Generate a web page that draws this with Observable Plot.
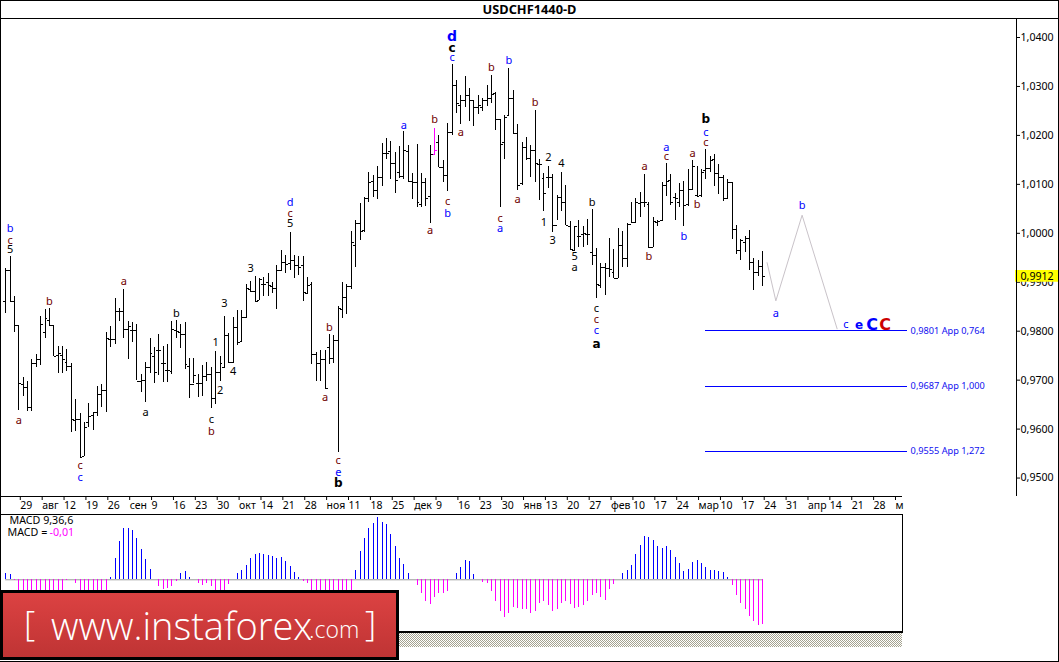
<!DOCTYPE html>
<html><head><meta charset="utf-8">
<script src="https://cdn.jsdelivr.net/npm/d3@7"></script>
<script src="https://cdn.jsdelivr.net/npm/@observablehq/plot@0.6"></script>
<style>
html,body{margin:0;padding:0;background:#fff;overflow:hidden}
#wrap{position:relative;width:1059px;height:662px;overflow:hidden;font-family:"Noto Sans",sans-serif}
#main,#macd{position:absolute;left:0}
#main{top:0}#macd{top:514px}
#title{position:absolute;left:0;width:1059px;top:1px;text-align:center;font:bold 12.8px/17px "Noto Sans",sans-serif;color:#000}
.ln{position:absolute;background:#000}
#hatch{position:absolute;left:0;top:633px;width:902px;height:14px;background:repeating-conic-gradient(#a5a390 0 25%,#ffffff 0 50%) 0 0/2px 2px}
#logo{position:absolute;left:0;top:590px;width:393px;height:64px;border:3.5px solid #000;background:linear-gradient(#dc4242,#bf3434);color:#fff;overflow:hidden}
#logo span{position:absolute;white-space:nowrap;font-family:"Open Sans",sans-serif;font-weight:300}
</style></head><body>
<div id="wrap">
<div id="main"></div>
<div id="macd"></div>
<div id="title">USDCHF1440-D</div>
<div class="ln" style="left:0;top:0;width:1059px;height:1px"></div>
<div class="ln" style="left:0;top:18px;width:1059px;height:1px"></div>
<div class="ln" style="left:0;top:0;width:1px;height:590px"></div>
<div class="ln" style="left:1058px;top:0;width:1px;height:662px"></div>
<div class="ln" style="left:1016px;top:18px;width:1px;height:478px"></div>
<div id="hatch"></div>
<div class="ln" style="left:0;top:631px;width:902px;height:2px"></div>
<div class="ln" style="left:0;top:661px;width:1059px;height:1px"></div>
<div id="logo">
<span style="left:21px;top:6px;font-size:35px">[</span>
<span style="left:48px;top:6px;font-size:38px">www.instaforex</span>
<span style="left:306px;top:20px;font-size:23px">.com</span>
<span style="left:362px;top:6px;font-size:35px">]</span>
</div>
</div>
<script>
// Daily OHLC, in units of 0.0001 (9929 = 0,9929)
const high=[9929,9952,9870,9811,9705,9697,9742,9752,9831,9844,
9846,9811,9768,9768,9762,9735,9660,9631,9613,9652,
9633,9687,9691,9797,9809,9866,9846,9886,9819,9817,
9813,9711,9737,9786,9766,9793,9768,9772,9819,9821,
9813,9817,9744,9744,9711,9729,9737,9725,9758,9748,
9831,9795,9829,9842,9842,9895,9901,9911,9907,9909,
9917,9899,9935,9964,9954,10001,9954,9952,9952,9909,
9899,9756,9760,9760,9793,9791,9850,9899,9895,10003,
10027,10060,10074,10125,10119,10137,10184,10194,10188,10166,
10178,10207,10180,10123,10182,10123,10111,10180,10215,10200,
10148,10225,10345,10313,10282,10321,10296,10272,10282,10276,
10301,10323,10288,10233,10241,10337,10292,10223,10186,10196,
10180,10250,10150,10123,10137,10121,10078,10125,10097,10025,
10013,10027,10013,10029,10048,9968,9939,9939,9990,9966,
10009,10003,10021,10062,10072,10084,10121,10062,10033,10027,
10103,10143,10121,10082,10101,10105,10131,10148,10137,10131,
10172,10156,10162,10141,10119,10109,10103,10015,9988,9993,
10005,9948,9944,9962];
const low=[9837,9860,9797,9638,9666,9636,9636,9725,9729,9786,
9811,9748,9713,9713,9717,9593,9595,9542,9544,9603,
9597,9625,9644,9633,9766,9772,9819,9786,9742,9776,
9699,9674,9654,9713,9693,9709,9695,9695,9711,9786,
9764,9721,9662,9693,9664,9666,9697,9642,9650,9697,
9723,9735,9735,9770,9778,9825,9880,9860,9862,9870,
9870,9878,9844,9921,9917,9925,9907,9913,9860,9874,
9731,9697,9697,9682,9731,9735,9552,9825,9835,9886,
9931,9986,10001,10062,10074,10070,10095,10150,10109,10082,
10111,10109,10103,10070,10052,10052,10054,10021,10158,10135,
10103,10086,10200,10245,10223,10256,10229,10219,10243,10248,
10260,10266,10209,10052,10150,10241,10203,10088,10097,10148,
10113,10103,10068,10044,10092,10001,10027,10044,10015,9966,
9962,9972,9972,9976,9935,9866,9888,9872,9909,9907,
9907,9931,9931,10019,10021,10033,10052,9968,9972,10013,
10025,10076,10056,10027,10052,10013,10054,10088,10074,10074,
10109,10125,10095,10080,10064,10072,9988,9956,9944,9960,
9923,9884,9911,9891];
const open=[9860,9925,9860,9811,9691,9684,9644,9733,9742,9797,
9821,9811,9750,9750,9737,9727,9617,9619,9544,9613,
9627,9633,9670,9678,9784,9784,9840,9840,9803,9801,
9801,9697,9699,9725,9748,9760,9735,9719,9717,9801,
9797,9793,9727,9691,9693,9693,9707,9711,9662,9715,
9725,9791,9737,9807,9778,9827,9886,9882,9862,9895,
9899,9891,9888,9925,9941,9939,9944,9935,9935,9878,
9895,9752,9735,9742,9766,9744,9780,9844,9868,9891,
9976,10021,10005,10072,10105,10088,10115,10164,10168,10143,
10125,10117,10168,10105,10103,10058,10103,10076,10160,10186,
10135,10119,10205,10301,10262,10272,10282,10272,10256,10258,
10272,10276,10286,10233,10186,10241,10276,10203,10101,10176,
10152,10170,10141,10111,10115,10115,10015,10074,10062,10013,
9964,9993,9997,9997,9960,9954,9893,9931,9929,9919,
9907,9976,9948,10019,10023,10060,10062,10058,9970,10023,
10027,10097,10107,10074,10062,10088,10058,10090,10078,10078,
10129,10133,10150,10123,10115,10072,10103,10007,9964,9982,
9990,9941,9919,9933];
const close=[9925,9860,9811,9693,9684,9644,9733,9742,9813,9825,
9811,9748,9754,9742,9727,9619,9619,9542,9603,9625,
9633,9670,9678,9786,9784,9840,9840,9803,9809,9801,
9697,9699,9725,9754,9715,9760,9735,9719,9803,9799,
9793,9731,9691,9709,9693,9707,9711,9662,9715,9735,
9791,9737,9807,9776,9827,9888,9882,9860,9905,9895,
9893,9888,9925,9941,9937,9944,9935,9931,9880,9893,
9752,9733,9742,9682,9744,9780,9846,9868,9891,9982,
10021,10003,10072,10103,10088,10115,10164,10164,10143,10107,
10117,10170,10105,10103,10062,10103,10072,10162,10170,10135,
10119,10205,10301,10266,10272,10282,10272,10256,10262,10272,
10276,10284,10233,10182,10237,10276,10203,10097,10176,10152,
10170,10143,10141,10082,10115,10015,10074,10062,10015,9966,
10013,9993,9999,9997,9954,9895,9931,9929,9927,9907,
9976,9948,10019,10023,10062,10062,10062,9970,10025,10025,
10097,10105,10062,10072,10088,10056,10090,10137,10076,10125,
10133,10148,10123,10115,10072,10103,10007,9964,9986,9990,
9941,9919,9933,9912];
// MACD histogram, in units of 0.0001 (values under the logo are estimated)
const macdValues=[14,11,-1,-30,-30,-30,-30,-30,-30,-30,
-30,-30,-30,-30,-2,0,-8,-30,-30,-30,
-30,-30,-30,-30,6,47,86,116,116,112,
93,68,46,23,1,-15,-22,-20,-15,-3,
14,19,5,1,-9,-12,-8,-14,-30,-30,
-30,-10,0,15,20,32,49,57,59,56,
54,52,48,51,41,30,17,5,-3,-8,
-30,-30,-30,-30,-30,-30,-30,-30,-30,-30,
21,64,94,116,126,140,129,125,102,75,
48,35,14,1,-12,-30,-48,-56,-41,-32,
-32,-26,0,14,28,44,41,12,1,-5,
-8,-26,-48,-71,-86,-75,-63,-64,-68,-68,
-77,-71,-53,-48,-57,-71,-66,-53,-50,-55,
-64,-62,-57,-50,-35,-32,-41,-46,-23,-10,
1,14,21,32,57,77,98,95,89,75,
71,75,66,50,37,19,23,39,44,37,
28,21,21,19,17,5,-12,-35,-53,-68,
-82,-95,-102,-100];
const dateTicks=["29","авг","12","19","26","сен","9","16","23","30","окт","14","21","28","ноя","11","18","25","дек","9","16","23","30","янв","13","20","27","фев","10","17","24","мар","10","17","24","31","апр","14","21","28","м"];
const priceTicks=[0.95,0.96,0.97,0.98,0.99,1.00,1.01,1.02,1.03,1.04];
const currentPrice=0.9912;
const highlightBar=98;
// Wave labels: text, bar, price (0.0001), colour group, bold size (0 = regular)
const labelText=["b","c","5","a","b","a","c","c","a","b","c","b","3","1","2","4","3","d","c","5","b","a","c","e","b","d","c","c","a","b","a","b","b","a","c","b","c","a","a","b","2","4","1","3","5","a","b","a","b","c","a","b","a","b","c","c","c","a","b","c","c","a","b","c"];
const labelBar=[1,1,1,3,10,27,17,17,32,39,47,47,50,48,49,52,56,65,65,65,74,73,76,76,76,102,102,102,91,98,104,111,115,97,101,101,113,113,117,121,124,127,123,125,130,130,134,146,147,151,151,155,157,158,135,135,135,135,160,160,160,176,182,192];
const labelPrice=[10009,9986,9966,9617,9860,9901,9525,9501,9633,9837,9619,9595,9856,9776,9678,9717,9929,10064,10041,10020,9807,9664,9536,9511,9489,10403,10378,10360,10221,10233,10205,10339,10354,10005,10066,10041,10031,10009,10070,10268,10154,10143,10023,9986,9952,9931,10062,10137,9952,10156,10176,9993,10164,10058,9846,9823,9801,9774,10233,10207,10186,9837,10056,9813];
const labelColor=["b","r","k","r","r","r","r","b","k","k","k","r","k","k","k","k","k","b","r","k","r","r","r","b","k","b","k","b","b","r","r","r","b","r","r","b","r","b","r","r","k","k","k","k","k","k","k","r","r","r","b","b","r","r","k","r","b","k","k","b","r","b","b","b"];
const labelBold=[0,0,0,0,0,0,0,0,0,0,0,0,0,0,0,0,0,0,0,0,0,0,0,0,12,14,12,0,0,0,0,0,0,0,0,0,0,0,0,0,0,0,0,0,0,0,0,0,0,0,0,0,0,0,0,0,0,12,12,0,0,0,0,0];
const bigText=["e","C","C"];
const bigBar=[195,198,201];
const bigPrice=[9813,9813,9813];
const bigColor=["#0000ff","#0000ff","#cc0000"];
const bigSize=[12,16,16];
// Projected path of the next waves
const pathBar=[174,176,182,190];
const pathPrice=[0.9940,0.9862,1.0037,0.9805];
// Appraisal levels
const levelPrice=[0.9801,0.9687,0.9555];
const levelLabel=["0,9801 App 0,764","0,9687 App 1,000","0,9555 App 1,272"];
const levelFromBar=160, levelToBar=206;

const colours={b:"#0000ff",r:"#700000",k:"#000000"};
const font='"Noto Sans",sans-serif';
const boldFont='"DejaVu Sans",sans-serif';
const bars=high.map((h,i)=>({i,h:h/1e4,l:low[i]/1e4,o:open[i]/1e4,c:close[i]/1e4}));
const labels=labelText.map((t,k)=>({t,x:labelBar[k],y:labelPrice[k]/1e4,c:colours[labelColor[k]],s:labelBold[k]}));
const bigs=bigText.map((t,k)=>({t,x:bigBar[k],y:bigPrice[k]/1e4,c:bigColor[k],s:bigSize[k]}));
const tickBars=dateTicks.map((_,k)=>3+5*k);
const comma=d=>d.toFixed(4).replace(".",",");
const barColour=d=>d.i===highlightBar?"#ff00ff":"#000";
const path=pathBar.map((x,k)=>({x,y:pathPrice[k]}));
const xOffset=1.181, barsPerPx=1/4.376;

const main=Plot.plot({
  width:1059,height:514,marginTop:0,marginLeft:0,marginRight:43,marginBottom:18,
  style:{fontFamily:font,fontSize:"11px",background:"transparent",overflow:"visible"},
  x:{domain:[-xOffset,1016*barsPerPx-xOffset],axis:null},
  y:{domain:[1.04-459/4895,1.04+37/4895],axis:null},
  marks:[
    Plot.ruleX(bars,{x:"i",y1:"l",y2:"h",stroke:barColour,strokeWidth:1,shapeRendering:"crispEdges"}),
    Plot.link(bars,{x1:d=>d.i-0.55,x2:"i",y1:"o",y2:"o",stroke:barColour,strokeWidth:1,shapeRendering:"crispEdges"}),
    Plot.link(bars,{x1:"i",x2:d=>d.i+0.55,y1:"c",y2:"c",stroke:barColour,strokeWidth:1,shapeRendering:"crispEdges"}),
    Plot.line(path,{x:"x",y:"y",stroke:"#c9c3c9",strokeWidth:1}),
    Plot.ruleY(levelPrice,{x1:levelFromBar,x2:levelToBar,stroke:"#0000ff",strokeWidth:1,shapeRendering:"crispEdges"}),
    Plot.text(levelLabel,{x:levelToBar+0.8,y:(d,k)=>levelPrice[k],text:d=>d,textAnchor:"start",fill:"#1010f0",fontSize:9.2}),
    Plot.text(labels,{filter:d=>!d.s,x:"x",y:"y",text:"t",fill:"c",fontSize:11}),
    Plot.text(labels,{filter:d=>d.s,x:"x",y:"y",text:"t",fill:"c",fontWeight:"bold",fontFamily:boldFont,fontSize:"s"}),
    Plot.text(bigs,{x:"x",y:"y",text:"t",fill:"c",fontWeight:"bold",fontFamily:boldFont,fontSize:"s"}),
    Plot.axisY({anchor:"right",ticks:priceTicks,tickFormat:comma,tickSize:3,tickPadding:1,fontSize:10.6,label:null,color:"#000"}),
    Plot.ruleY([1.04-459/4895],{x1:-xOffset,x2:204.94,stroke:"#000",strokeWidth:1,shapeRendering:"crispEdges"}),
    Plot.axisX({anchor:"bottom",ticks:tickBars,tickFormat:(d,k)=>dateTicks[(d-3)/5],tickSize:4,tickPadding:1,textAnchor:"start",dx:1.5,fontSize:10.5,label:null,color:"#000"}),
    Plot.rect([currentPrice],{x1:1015*barsPerPx-xOffset,x2:1058*barsPerPx-xOffset,y1:d=>d-0.0012,y2:d=>d+0.0012,fill:"#ffff00"}),
    Plot.text([currentPrice],{x:1020*barsPerPx-xOffset,y:d=>d,text:comma,textAnchor:"start",fill:"#000",fontSize:10.6})
  ]
});
document.getElementById("main").append(main);

const macd=Plot.plot({
  width:1059,height:148,marginTop:0,marginLeft:0,marginRight:157,marginBottom:30,
  style:{fontFamily:font,background:"transparent",overflow:"visible"},
  x:{domain:[-xOffset,902*barsPerPx-xOffset],axis:null},
  y:{domain:[-118.7,147],axis:null},
  marks:[
    Plot.frame({stroke:"#000",strokeWidth:1}),
    Plot.ruleY([0],{x1:0,x2:173,stroke:"#999",strokeWidth:1}),
    Plot.ruleX(macdValues,{x:(d,k)=>k,y1:0,y2:d=>d,stroke:d=>d>=0?"#0000ff":"#ff00ff",strokeWidth:1,shapeRendering:"crispEdges"}),
    Plot.text(["MACD 9,36,6"],{frameAnchor:"top-left",dx:9,dy:2,lineAnchor:"top",textAnchor:"start",fill:"#000",fontSize:10.7}),
    Plot.text(["MACD ="],{frameAnchor:"top-left",dx:7,dy:14,lineAnchor:"top",textAnchor:"start",fill:"#000",fontSize:10.7}),
    Plot.text(["-0,01"],{frameAnchor:"top-left",dx:49,dy:14,lineAnchor:"top",textAnchor:"start",fill:"#ff00ff",fontSize:10.7})
  ]
});
document.getElementById("macd").append(macd);
</script>
</body></html>
